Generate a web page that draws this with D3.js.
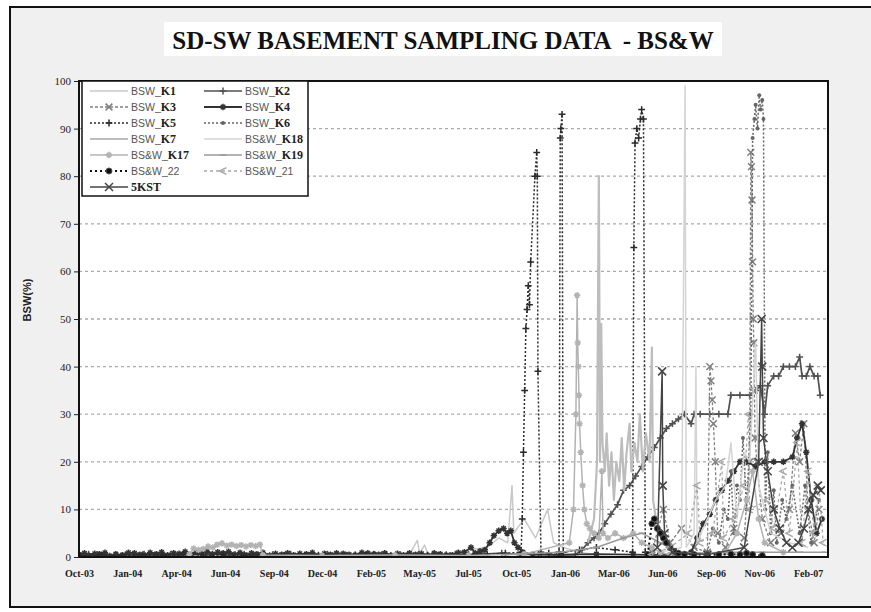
<!DOCTYPE html>
<html><head><meta charset="utf-8">
<script src="https://cdn.jsdelivr.net/npm/d3@7"></script>
<style>body{margin:0;background:#fff;} svg{display:block}</style>
</head><body><svg id="c" width="871" height="612"></svg>
<script>
// ---------- DATA ----------
const titleText = "SD-SW BASEMENT SAMPLING DATA  - BS&W";
const yLabel = "BSW(%)";
const yTicks = [0,10,20,30,40,50,60,70,80,90,100];
const tickDates = ["2003-10-25","2004-01-13","2004-04-03","2004-06-23","2004-09-12","2004-12-01","2005-02-20","2005-05-11","2005-07-31","2005-10-19","2006-01-08","2006-03-29","2006-06-18","2006-09-07","2006-11-26","2007-02-15"];
const tickLabels = ["Oct-03","Jan-04","Apr-04","Jun-04","Sep-04","Dec-04","Feb-05","May-05","Jul-05","Oct-05","Jan-06","Mar-06","Jun-06","Sep-06","Nov-06","Feb-07"];
const dateDomain = ["2003-10-25","2007-03-20"];

const K1 = [["2003-10-25",0.8],["2003-12-20",0.5],["2004-02-15",0.6],["2004-05-01",0.4],["2004-08-01",0.6],["2004-11-01",0.4],["2005-02-01",0.6],["2005-04-25",0.5],["2005-05-08",3.5],["2005-05-12",0.8],["2005-05-20",2.5],["2005-05-26",0.5],["2005-07-01",0.6],["2005-08-01",1.5],["2005-09-01",2],["2005-09-20",4],["2005-10-05",3],["2005-10-12",15],["2005-10-15",5],["2005-11-01",8],["2005-11-20",4],["2005-12-10",10],["2005-12-20",3],["2006-01-05",2],["2006-02-01",1],["2006-03-01",0.5]];
const K2 = [["2003-10-25",0.3],["2003-11-10",0.6],["2003-11-25",0.5],["2003-12-10",0.3],["2003-12-25",0.2],["2004-01-10",0.5],["2004-01-25",0.4],["2004-02-10",0.6],["2004-02-25",0.3],["2004-03-10",0.5],["2004-03-25",0.6],["2004-04-10",0.3],["2004-04-25",0.4],["2004-05-10",0.7],["2004-05-25",0.5],["2004-06-10",0.6],["2004-06-25",0.3],["2004-07-10",0.5],["2004-07-25",0.6],["2004-08-10",0.4],["2004-08-25",0.4],["2004-09-10",0.5],["2004-09-25",0.3],["2004-10-10",0.6],["2004-10-25",0.5],["2004-11-10",0.3],["2004-11-25",0.4],["2004-12-10",0.6],["2004-12-25",0.3],["2005-01-10",0.4],["2005-01-25",0.5],["2005-02-10",0.4],["2005-02-25",0.6],["2005-03-10",0.5],["2005-03-25",0.3],["2005-04-10",0.5],["2005-04-25",0.4],["2005-05-10",0.6],["2005-05-25",0.3],["2005-06-10",0.4],["2005-06-25",0.5],["2005-07-10",0.6],["2005-07-25",0.4],["2005-08-10",0.5],["2005-08-25",0.6],["2005-09-25",0.8],["2005-10-25",0.5],["2005-11-25",0.6],["2005-12-25",0.4],["2006-01-25",0.5],["2006-02-05",1.5],["2006-02-15",3],["2006-02-25",4],["2006-03-05",5],["2006-03-15",7],["2006-03-25",9],["2006-04-05",11],["2006-04-15",14],["2006-04-25",15],["2006-05-05",17],["2006-05-15",19],["2006-05-25",21],["2006-06-05",23],["2006-06-15",25],["2006-06-25",27],["2006-07-05",28],["2006-07-15",29],["2006-07-25",30],["2006-08-05",28],["2006-08-10",30],["2006-08-20",30],["2006-09-05",30],["2006-09-20",30],["2006-10-05",30],["2006-10-10",34],["2006-10-25",34],["2006-11-10",34],["2006-11-20",35],["2006-11-28",36],["2006-12-05",30],["2006-12-10",36],["2006-12-20",38],["2006-12-28",38],["2007-01-05",40],["2007-01-15",40],["2007-01-25",40],["2007-02-01",42],["2007-02-05",38],["2007-02-12",38],["2007-02-18",40],["2007-02-25",38],["2007-03-03",38],["2007-03-07",34]];
const K3 = [["2006-06-01",1],["2006-06-20",10],["2006-07-01",3],["2006-07-20",6],["2006-08-10",2],["2006-09-01",1],["2006-09-05",40],["2006-09-07",37],["2006-09-09",33],["2006-09-11",28],["2006-09-14",20],["2006-09-18",5],["2006-10-01",2],["2006-10-15",6],["2006-11-01",4],["2006-11-10",20],["2006-11-12",85],["2006-11-13",82],["2006-11-14",75],["2006-11-15",62],["2006-11-16",50],["2006-11-17",45],["2006-11-18",35],["2006-11-19",25],["2006-11-22",20],["2006-12-01",8],["2006-12-15",3],["2007-01-01",5],["2007-01-15",10],["2007-01-25",26],["2007-02-01",20],["2007-02-08",28],["2007-02-15",10],["2007-02-25",3],["2007-03-05",10]];
const K4 = [["2003-10-25",0.5],["2003-11-03",0.8],["2003-11-10",0.3],["2003-11-20",0.7],["2003-11-28",0.6],["2003-12-07",0.9],["2003-12-15",0.2],["2003-12-25",0.6],["2004-01-05",0.4],["2004-01-15",0.9],["2004-01-25",0.8],["2004-02-03",0.5],["2004-02-12",0.3],["2004-02-20",0.9],["2004-03-01",0.6],["2004-03-10",1.0],["2004-03-20",0.4],["2004-03-30",0.8],["2004-04-08",0.7],["2004-04-18",1.1],["2004-04-28",0.5],["2004-05-06",1.0],["2004-05-15",0.9],["2004-05-24",1.2],["2004-06-02",0.6],["2004-06-11",1.0],["2004-06-20",0.8],["2004-06-29",1.1],["2004-07-08",0.5],["2004-07-18",0.9],["2004-07-28",0.4],["2004-08-06",0.8],["2004-08-15",0.6],["2004-08-25",0.9],["2004-09-05",0.3],["2004-09-15",0.7],["2004-09-25",0.5],["2004-10-05",0.8],["2004-10-15",0.4],["2004-10-25",0.7],["2004-11-05",0.6],["2004-11-15",0.9],["2004-11-25",0.3],["2004-12-05",0.7],["2004-12-15",0.5],["2004-12-25",0.8],["2005-01-05",0.7],["2005-01-15",0.5],["2005-01-25",0.4],["2005-02-05",0.9],["2005-02-15",0.8],["2005-02-25",0.6],["2005-03-05",0.5],["2005-03-15",0.8],["2005-03-25",0.3],["2005-04-05",0.7],["2005-04-15",0.4],["2005-04-25",0.8],["2005-05-05",0.5],["2005-05-15",0.7],["2005-05-25",0.3],["2005-06-05",0.8],["2005-06-15",0.6],["2005-06-25",0.4],["2005-07-05",0.4],["2005-07-15",0.9],["2005-07-25",1],["2005-08-05",2],["2005-08-12",0.8],["2005-08-20",1.2],["2005-08-28",1.5],["2005-09-05",3],["2005-09-12",4.5],["2005-09-20",5.5],["2005-09-28",6],["2005-10-04",5],["2005-10-10",5.5],["2005-10-16",3],["2005-10-22",2],["2005-10-30",1],["2005-11-15",0.5],["2006-01-01",0.5],["2006-03-01",0.6],["2006-05-01",0.5],["2006-07-01",0.4],["2006-08-05",1],["2006-08-15",4],["2006-08-25",7],["2006-09-05",9],["2006-09-15",12],["2006-09-25",14],["2006-10-05",16],["2006-10-15",18],["2006-10-25",20],["2006-11-05",20],["2006-11-20",19],["2006-12-05",20],["2006-12-20",20],["2007-01-05",20],["2007-01-20",21],["2007-01-28",25],["2007-02-05",28],["2007-02-12",22],["2007-02-20",12],["2007-03-01",5],["2007-03-10",8]];
const K5 = [["2003-10-28",0.2],["2003-12-01",0.4],["2004-01-05",0.3],["2004-02-08",0.5],["2004-03-12",0.3],["2004-04-15",0.6],["2004-05-18",0.4],["2004-06-20",0.5],["2004-07-24",0.3],["2004-08-27",0.5],["2004-09-30",0.4],["2004-11-02",0.3],["2004-12-06",0.5],["2005-01-09",0.3],["2005-02-12",0.4],["2005-03-18",0.5],["2005-04-21",0.3],["2005-05-25",0.4],["2005-07-01",0.3],["2005-08-01",0.5],["2005-09-01",0.5],["2005-10-01",0.8],["2005-10-27",1],["2005-10-29",8],["2005-10-31",22],["2005-11-02",35],["2005-11-04",48],["2005-11-06",52],["2005-11-08",57],["2005-11-10",53],["2005-11-12",62],["2005-11-19",80],["2005-11-22",85],["2005-11-23",80],["2005-11-24",39],["2005-11-29",1],["2005-12-12",0.8],["2005-12-29",1],["2005-12-31",88],["2006-01-01",90],["2006-01-03",93],["2006-01-05",1],["2006-02-01",1.5],["2006-03-01",2],["2006-04-01",1.5],["2006-04-30",1],["2006-05-02",65],["2006-05-04",87],["2006-05-07",90],["2006-05-10",88],["2006-05-13",92],["2006-05-15",94],["2006-05-18",92],["2006-05-21",1],["2006-06-15",0.8]];
const K6 = [["2006-09-01",1],["2006-09-10",6],["2006-09-20",3],["2006-09-28",10],["2006-10-05",8],["2006-10-10",18],["2006-10-15",5],["2006-10-20",15],["2006-10-25",12],["2006-10-30",25],["2006-11-05",10],["2006-11-12",30],["2006-11-15",88],["2006-11-18",92],["2006-11-20",95],["2006-11-23",90],["2006-11-26",97],["2006-11-28",94],["2006-12-01",96],["2006-12-03",92],["2006-12-06",10],["2006-12-10",22],["2006-12-15",5],["2006-12-20",14],["2006-12-25",3],["2007-01-03",12],["2007-01-10",8],["2007-01-20",15],["2007-02-01",5],["2007-02-10",15],["2007-02-20",3],["2007-03-05",12]];
const K7 = [["2006-02-15",3],["2006-02-25",8],["2006-03-02",20],["2006-03-05",80],["2006-03-07",20],["2006-03-09",49],["2006-03-11",24],["2006-03-15",18],["2006-03-18",26],["2006-03-22",15],["2006-03-26",22],["2006-03-30",12],["2006-04-03",20],["2006-04-08",16],["2006-04-12",25],["2006-04-16",14],["2006-04-20",22],["2006-04-25",28],["2006-04-28",18],["2006-05-03",24],["2006-05-08",20],["2006-05-12",30],["2006-05-17",18],["2006-05-22",26],["2006-05-28",20],["2006-06-01",44],["2006-06-03",12],["2006-06-10",6],["2006-06-20",3],["2006-07-05",2]];
const K18 = [["2006-06-15",1],["2006-07-20",2],["2006-07-26",99],["2006-07-28",2],["2006-08-10",5],["2006-08-13",40],["2006-08-15",3],["2006-09-01",8],["2006-09-15",12],["2006-10-01",15],["2006-10-10",24],["2006-10-20",8],["2006-11-01",22],["2006-11-10",20],["2006-11-20",45],["2006-11-25",15],["2006-12-15",5],["2007-01-15",3],["2007-02-15",2]];
const K17 = [["2004-04-25",0.5],["2004-05-02",1.8],["2004-05-10",1.5],["2004-05-18",1.7],["2004-05-26",2.2],["2004-06-03",2.0],["2004-06-10",2.6],["2004-06-18",2.9],["2004-06-26",2.4],["2004-07-04",2.6],["2004-07-12",2.3],["2004-07-20",2.5],["2004-07-28",2.2],["2004-08-05",2.5],["2004-08-13",2.3],["2004-08-20",2.6],["2004-08-25",0.4],["2004-12-01",0.3],["2005-04-01",0.4],["2005-08-01",0.3],["2005-11-01",0.6],["2006-01-15",3],["2006-01-22",10],["2006-01-26",30],["2006-01-28",55],["2006-01-29",45],["2006-01-30",40],["2006-01-31",34],["2006-02-01",28],["2006-02-03",22],["2006-02-06",15],["2006-02-09",10],["2006-02-13",7],["2006-02-18",6],["2006-02-25",5],["2006-03-05",4],["2006-03-10",18],["2006-03-12",5],["2006-03-20",4],["2006-04-01",5],["2006-04-15",4],["2006-05-01",5],["2006-05-15",3],["2006-06-01",2],["2006-06-15",1],["2006-07-01",0.5],["2006-10-01",1],["2006-10-20",5],["2006-11-05",12],["2006-11-15",18],["2006-11-25",8],["2006-12-05",3],["2007-01-05",1]];
const K19 = [["2005-10-01",0.5],["2006-01-01",1],["2006-03-01",2],["2006-04-15",4],["2006-05-15",5],["2006-06-15",3],["2006-07-15",1],["2006-08-15",0.8],["2006-10-01",1],["2006-12-01",1],["2007-02-01",1],["2007-03-15",1]];
const S22 = [["2006-05-25",0.5],["2006-06-01",7],["2006-06-05",8],["2006-06-10",6],["2006-06-15",5],["2006-06-20",4],["2006-06-25",3],["2006-07-01",2],["2006-07-08",1.2],["2006-07-15",0.8],["2006-07-25",0.6],["2006-08-10",0.5],["2006-09-01",0.4],["2006-09-20",0.5],["2006-10-10",0.6],["2006-10-25",0.5],["2006-11-05",0.8],["2006-11-15",0.5],["2006-12-01",0.3]];
const S21 = [["2006-06-01",0.5],["2006-07-01",2],["2006-08-01",5],["2006-08-15",15],["2006-08-20",3],["2006-09-10",5],["2006-09-25",20],["2006-09-28",4],["2006-10-15",8],["2006-11-01",15],["2006-11-08",30],["2006-11-10",10],["2006-12-10",12],["2006-12-20",6],["2007-01-05",18],["2007-01-15",5],["2007-01-28",24],["2007-02-05",3],["2007-02-15",18],["2007-02-25",5],["2007-03-05",15],["2007-03-12",3]];
const KST5 = [["2006-06-10",2],["2006-06-18",39],["2006-06-19",15],["2006-06-22",5],["2006-07-05",1],["2006-09-01",0.5],["2006-11-01",2],["2006-11-25",20],["2006-11-30",50],["2006-12-01",40],["2006-12-03",25],["2006-12-10",18],["2006-12-20",10],["2006-12-30",6],["2007-01-10",3],["2007-01-20",2],["2007-01-30",3],["2007-02-08",6],["2007-02-16",10],["2007-02-24",13],["2007-03-03",15],["2007-03-08",14]];

const seriesNames = ["BSW_K1","BSW_K2","BSW_K3","BSW_K4","BSW_K5","BSW_K6","BSW_K7","BS&W_K18","BS&W_K17","BS&W_K19","BS&W_22","BS&W_21","5KST"];
const seriesData = [K1,K2,K3,K4,K5,K6,K7,K18,K17,K19,S22,S21,KST5];

// ---------- STYLES ----------
const styles = {
  "BSW_K1":   {stroke:"#c9c9c9", w:1.5, dash:null,  marker:null},
  "BSW_K2":   {stroke:"#505050", w:1.7, dash:null,  marker:"plus"},
  "BSW_K3":   {stroke:"#808080", w:1.3, dash:"3,2", marker:"x"},
  "BSW_K4":   {stroke:"#333",    w:1.8, dash:null,  marker:"star"},
  "BSW_K5":   {stroke:"#2a2a2a", w:1.5, dash:"2,2", marker:"plus"},
  "BSW_K6":   {stroke:"#666",    w:1.5, dash:"2,2", marker:"dot"},
  "BSW_K7":   {stroke:"#bdbdbd", w:2.2, dash:null,  marker:null},
  "BS&W_K18": {stroke:"#d4d4d4", w:1.5, dash:null,  marker:null},
  "BS&W_K17": {stroke:"#b3b3b3", w:1.5, dash:null,  marker:"star"},
  "BS&W_K19": {stroke:"#9a9a9a", w:1.5, dash:null,  marker:"dash"},
  "BS&W_22":  {stroke:"#111",    w:2,   dash:"2,3", marker:"bigdot"},
  "BS&W_21":  {stroke:"#a8a8a8", w:1.3, dash:"3,3", marker:"lt"},
  "5KST":     {stroke:"#444",    w:1.5, dash:null,  marker:"X"}
};

const parse = d3.timeParse("%Y-%m-%d");
const svg = d3.select("#c");

// frame
svg.append("rect").attr("x",10).attr("y",7).attr("width",880).attr("height",600)
  .attr("fill","#f0f0f0").attr("stroke","#111").attr("stroke-width",2);

const L=79, R=828, T=81, B=557;
const x = d3.scaleTime().domain(dateDomain.map(parse)).range([L,R]);
const y = d3.scaleLinear().domain([0,100]).range([B,T]);

// title
svg.append("rect").attr("x",164).attr("y",22).attr("width",558).attr("height",34).attr("fill","#fff");
svg.append("text").attr("x",443).attr("y",49).attr("text-anchor","middle")
  .style("white-space","pre")
  .attr("font-family","Liberation Serif, Times New Roman, serif").attr("font-weight","bold")
  .attr("font-size",25).attr("fill","#111").text(titleText);

// plot area
svg.append("rect").attr("x",L).attr("y",T).attr("width",R-L).attr("height",B-T).attr("fill","#fff");

// gridlines
svg.append("g").selectAll("line").data(yTicks.filter(v=>v>0&&v<100)).join("line")
  .attr("x1",L).attr("x2",R).attr("y1",d=>y(d)).attr("y2",d=>y(d))
  .attr("stroke","#ababab").attr("stroke-width",1.3).attr("stroke-dasharray","3,3");

// series
svg.append("defs").append("clipPath").attr("id","clip").append("rect")
  .attr("x",L).attr("y",T-6).attr("width",R-L).attr("height",B-T+6);
const plot = svg.append("g").attr("clip-path","url(#clip)");
const line = d3.line().x(d=>x(parse(d[0]))).y(d=>y(d[1]));

function markerPath(m, s){
  switch(m){
    case "plus": return `M${-s},0H${s}M0,${-s}V${s}`;
    case "x": return `M${-s},${-s}L${s},${s}M${-s},${s}L${s},${-s}`;
    case "X": return `M${-s},${-s}L${s},${s}M${-s},${s}L${s},${-s}`;
    case "star": return `M${-s},0H${s}M0,${-s}V${s}M${-s*0.7},${-s*0.7}L${s*0.7},${s*0.7}M${-s*0.7},${s*0.7}L${s*0.7},${-s*0.7}`;
    case "dash": return `M${-s},0H${s}`;
    case "lt": return `M${s},${-s}L${-s},0L${s},${s}`;
  }
  return "";
}
function drawMarker(g, m, st, cx, cy){
  if(!m) return;
  if(m==="dot"){ g.append("circle").attr("cx",cx).attr("cy",cy).attr("r",2).attr("fill",st.stroke); return; }
  if(m==="bigdot"){ g.append("circle").attr("cx",cx).attr("cy",cy).attr("r",3).attr("fill","#111").attr("stroke","#555").attr("stroke-width",1); return; }
  const s = m==="X"?4:(m==="star"?3.2:3.4);
  g.append("path").attr("transform",`translate(${cx},${cy})`).attr("d",markerPath(m,s))
    .attr("stroke",st.stroke).attr("stroke-width",m==="X"?1.5:1.5).attr("fill","none");
}

seriesNames.forEach((name,i)=>{
  const st = styles[name];
  const g = plot.append("g");
  g.append("path").datum(seriesData[i]).attr("d",line).attr("fill","none")
    .attr("stroke",st.stroke).attr("stroke-width",st.w)
    .attr("stroke-dasharray",st.dash).attr("stroke-linejoin","round");
  seriesData[i].forEach(d=>drawMarker(g, st.marker, st, x(parse(d[0])), y(d[1])));
});

// plot border
svg.append("rect").attr("x",L).attr("y",T).attr("width",R-L).attr("height",B-T)
  .attr("fill","none").attr("stroke","#111").attr("stroke-width",2);

// axes
const yAxis = svg.append("g").attr("transform",`translate(${L},0)`)
  .call(d3.axisLeft(y).tickValues(yTicks).tickSize(5).tickPadding(3));
yAxis.select(".domain").remove();
yAxis.selectAll("text").attr("font-family","Liberation Serif, Times New Roman, serif").attr("font-size",11).attr("fill","#222");
yAxis.selectAll("line").attr("stroke","#222");

const xAxis = svg.append("g").attr("transform",`translate(0,${B})`)
  .call(d3.axisBottom(x).tickValues(tickDates.map(parse)).tickFormat((d,i)=>tickLabels[i]).tickSize(0).tickPadding(13));
xAxis.select(".domain").remove();
xAxis.selectAll("text").attr("font-family","Liberation Serif, Times New Roman, serif").attr("font-weight","bold").attr("font-size",10).attr("fill","#222");

// y label
svg.append("text").attr("transform","translate(31,300) rotate(-90)").attr("text-anchor","middle")
  .attr("font-family","Liberation Sans, Arial, sans-serif").attr("font-weight","bold").attr("font-size",11).attr("fill","#222").text(yLabel);

// legend
const lg = svg.append("g");
lg.append("rect").attr("x",82).attr("y",T).attr("width",226).attr("height",115)
  .attr("fill","#fff").attr("stroke","#111").attr("stroke-width",1.5);
seriesNames.forEach((name,i)=>{
  const col = i%2, row = Math.floor(i/2);
  const x0 = col===0?90:204, x1 = x0+38, yy = 91+row*16;
  const st = styles[name];
  lg.append("line").attr("x1",x0).attr("x2",x1).attr("y1",yy).attr("y2",yy)
    .attr("stroke",st.stroke).attr("stroke-width",st.w).attr("stroke-dasharray",st.dash);
  drawMarker(lg, st.marker, st, (x0+x1)/2, yy);
  const m = name.match(/^(BS&?W_)(K\d+)$/);
  const t = lg.append("text").attr("x",x1+3).attr("y",yy+4);
  if(m){
    t.append("tspan").attr("font-family","Liberation Sans, Arial, sans-serif").attr("font-size",10.5).attr("fill","#555").text(m[1]);
    t.append("tspan").attr("font-family","Liberation Serif, Times New Roman, serif").attr("font-weight","bold").attr("font-size",12).attr("fill","#222").text(m[2]);
  } else if(name==="5KST"){
    t.attr("font-family","Liberation Serif, Times New Roman, serif").attr("font-weight","bold").attr("font-size",12).attr("fill","#222").text(name);
  } else {
    t.attr("font-family","Liberation Sans, Arial, sans-serif").attr("font-size",10.5).attr("fill","#555").text(name);
  }
});
</script>
</body></html>
